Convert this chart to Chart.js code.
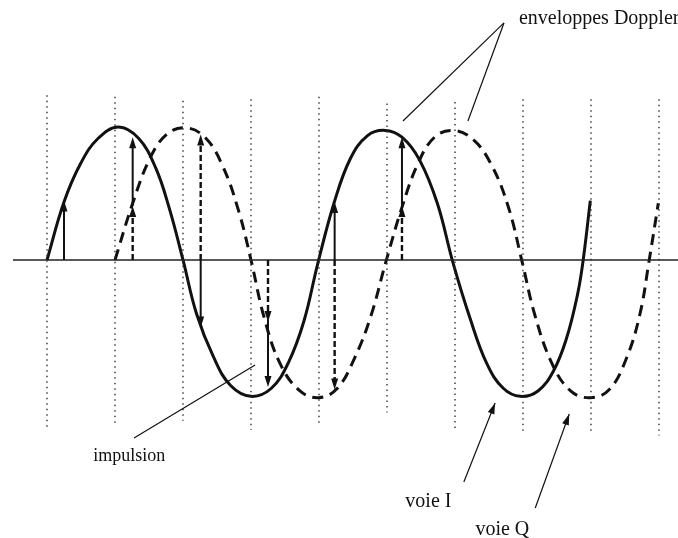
<!DOCTYPE html>
<html>
<head>
<meta charset="utf-8">
<script src="https://cdn.jsdelivr.net/npm/chart.js@4"></script>
<style>
  html, body { margin: 0; padding: 0; background: #fff; }
  #wrap { width: 678px; height: 538px; }
</style>
</head>
<body>
<div id="wrap"><canvas id="dopplerChart" width="678" height="538"></canvas></div>
<script>
/* Data (x in sampling intervals, y in amplitude units) */

// dotted sampling instants
const gridT = [0, 1, 2, 3, 4, 5, 6, 7, 8, 9];
const gridTop = [1.22, 1.21, 1.18, 1.19, 1.21, 1.16, 1.17, 1.19, 1.19, 1.19];
const gridBottom = [-1.24, -1.22, -1.19, -1.26, -1.22, -1.13, -1.27, -1.28, -1.28, -1.30];

// time axis
const axisT = [-0.5, 9.3];

// voie I (solid envelope)
const iT = [0, 0.25, 0.5, 0.75, 1.05, 1.35, 1.6, 1.8, 2.0, 2.2, 2.45, 2.7, 3.0, 3.3, 3.55, 3.78, 3.98,
            4.22, 4.46, 4.71, 4.97, 5.22, 5.48, 5.74, 5.97, 6.22, 6.47, 6.71, 6.96, 7.22, 7.45, 7.64, 7.8, 7.88, 7.99];
const iV = [0, 0.43, 0.72, 0.90, 0.985, 0.90, 0.68, 0.38, 0, -0.4, -0.72, -0.93, -1.01, -0.95, -0.76, -0.45, -0.03,
            0.42, 0.75, 0.92, 0.96, 0.91, 0.74, 0.42, -0.02, -0.43, -0.77, -0.95, -1.01, -0.97, -0.82, -0.58, -0.26, -0.02, 0.44];

// voie Q (dashed envelope)
const qT = [1.0, 1.26, 1.52, 1.76, 2.03, 2.32, 2.58, 2.82, 3.0, 3.19, 3.43, 3.72, 4.0, 4.27, 4.52, 4.76, 4.98,
            5.22, 5.46, 5.7, 5.97, 6.25, 6.52, 6.78, 6.99, 7.17, 7.42, 7.7, 7.99, 8.27, 8.52, 8.72, 8.85, 8.99];
const qV = [0, 0.42, 0.76, 0.93, 0.98, 0.91, 0.70, 0.36, 0, -0.42, -0.77, -0.97, -1.02, -0.95, -0.73, -0.42, -0.02,
            0.39, 0.72, 0.91, 0.96, 0.90, 0.72, 0.40, -0.02, -0.40, -0.76, -0.97, -1.02, -0.96, -0.73, -0.40, -0.02, 0.42];

// impulses (arrows)
const impulseT = [0.25, 1.26, 1.26, 2.26, 2.26, 3.25, 3.25, 4.23, 4.23, 5.22, 5.22];
const impulseFrom = [0, 0, 0.40, 0, 0, 0, -0.44, 0, 0, 0, 0.40];
const impulseTo = [0.44, 0.40, 0.91, 0.93, -0.50, -0.46, -0.94, 0.43, -0.96, 0.40, 0.91];
const impulseVoie = ['I', 'Q', 'I', 'Q', 'I', 'Q', 'I', 'I', 'Q', 'Q', 'I'];

// leader lines for the labels
const leaderFromT = [6.72, 6.72, 1.28, 6.13, 7.18];
const leaderFromV = [1.756, 1.756, -1.319, -1.644, -1.837];
const leaderToT = [5.235, 6.19, 3.06, 6.59, 7.68];
const leaderToV = [1.03, 1.03, -0.778, -1.059, -1.141];
const leaderHead = [false, false, false, true, true];

// labels
const labelText = ['enveloppes Doppler', 'impulsion', 'voie I', 'voie Q'];
const labelT = [6.94, 0.68, 5.27, 6.30];
const labelV = [1.75, -1.49, -1.83, -2.04];
const labelSize = [20, 18, 20, 20];

/* Helpers */
function toPoints(xs, ys) {
  return xs.map((x, k) => ({ x: x, y: ys[k] }));
}

var gridPoints = [];
gridT.forEach((t, k) => {
  gridPoints.push({ x: t, y: gridTop[k] });
  gridPoints.push({ x: t, y: gridBottom[k] });
  gridPoints.push({ x: t, y: null });
});

const ink = '#111';

function arrowHead(ctx, x, y, dir, len, half) {
  // dir: +1 points down (pixel), -1 points up
  ctx.beginPath();
  ctx.moveTo(x, y);
  ctx.lineTo(x - half, y - dir * len);
  ctx.lineTo(x + half, y - dir * len);
  ctx.closePath();
  ctx.fill();
}

const drawingPlugin = {
  id: 'drawing',
  afterDatasetsDraw(chart) {
    const ctx = chart.ctx;
    const xs = chart.scales.x;
    const ys = chart.scales.y;
    ctx.save();
    ctx.strokeStyle = ink;
    ctx.fillStyle = ink;

    // impulses
    impulseT.forEach((t, k) => {
      const px = xs.getPixelForValue(t);
      const y0 = ys.getPixelForValue(impulseFrom[k]);
      const y1 = ys.getPixelForValue(impulseTo[k]);
      const dir = y1 > y0 ? 1 : -1;
      ctx.lineWidth = impulseVoie[k] == 'I' ? 2 : 2.4;
      ctx.setLineDash(impulseVoie[k] == 'I' ? [] : [6, 3]);
      ctx.beginPath();
      ctx.moveTo(px, y0);
      ctx.lineTo(px, y1 - dir * 6);
      ctx.stroke();
      ctx.setLineDash([]);
      arrowHead(ctx, px, y1, dir, 11, 3.5);
    });

    // leader lines
    ctx.lineWidth = 1.2;
    leaderFromT.forEach((t, k) => {
      const x0 = xs.getPixelForValue(t);
      const y0 = ys.getPixelForValue(leaderFromV[k]);
      const x1 = xs.getPixelForValue(leaderToT[k]);
      const y1 = ys.getPixelForValue(leaderToV[k]);
      ctx.beginPath();
      ctx.moveTo(x0, y0);
      ctx.lineTo(x1, y1);
      ctx.stroke();
      if (leaderHead[k]) {
        const a = Math.atan2(y1 - y0, x1 - x0);
        ctx.beginPath();
        ctx.moveTo(x1, y1);
        ctx.lineTo(x1 - 11 * Math.cos(a) + 3.5 * Math.sin(a), y1 - 11 * Math.sin(a) - 3.5 * Math.cos(a));
        ctx.lineTo(x1 - 11 * Math.cos(a) - 3.5 * Math.sin(a), y1 - 11 * Math.sin(a) + 3.5 * Math.cos(a));
        ctx.closePath();
        ctx.fill();
      }
    });

    // labels
    ctx.textBaseline = 'alphabetic';
    ctx.textAlign = 'left';
    labelText.forEach((txt, k) => {
      ctx.font = labelSize[k] + 'px "Liberation Serif", "DejaVu Serif", serif';
      ctx.fillText(txt, xs.getPixelForValue(labelT[k]), ys.getPixelForValue(labelV[k]));
    });
    ctx.restore();
  }
};

// Create the chart
const ctxDoppler = document.getElementById('dopplerChart').getContext('2d');

const dopplerChart = new Chart(ctxDoppler, {
  type: 'scatter',
  data: {
    datasets: [{
      label: 'instants',
      data: gridPoints,
      showLine: true,
      spanGaps: false,
      borderColor: '#333',
      borderWidth: 1.4,
      borderDash: [1.5, 4],
      pointRadius: 0
    },
    {
      label: 'axe',
      data: toPoints(axisT, [0, 0]),
      showLine: true,
      borderColor: '#222',
      borderWidth: 1.3,
      pointRadius: 0
    },
    {
      label: 'voie I',
      data: toPoints(iT, iV),
      showLine: true,
      tension: 0.4,
      borderColor: ink,
      borderWidth: 3,
      pointRadius: 0
    },
    {
      label: 'voie Q',
      data: toPoints(qT, qV),
      showLine: true,
      tension: 0.4,
      borderColor: ink,
      borderWidth: 3,
      borderDash: [11, 7],
      pointRadius: 0
    }]
  },
  options: {
    responsive: false,
    animation: false,
    devicePixelRatio: 1,
    layout: { padding: 0 },
    plugins: {
      legend: { display: false },
      tooltip: { enabled: false }
    },
    scales: {
      x: {
        type: 'linear',
        display: false,
        min: -0.6912,
        max: 9.2794
      },
      y: {
        type: 'linear',
        display: false,
        min: -2.0593,
        max: 1.9259
      }
    }
  },
  plugins: [drawingPlugin]
});
</script>
</body>
</html>
